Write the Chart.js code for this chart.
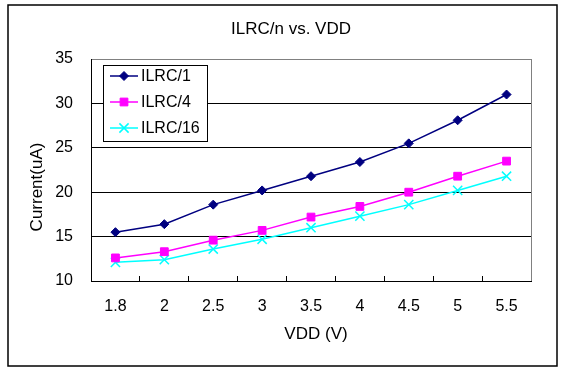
<!DOCTYPE html>
<html>
<head>
<meta charset="utf-8">
<script src="https://cdn.jsdelivr.net/npm/chart.js@4/dist/chart.umd.min.js"></script>
<style>
html,body{margin:0;padding:0;background:#fff;}
canvas{display:block;}
</style>
</head>
<body>
<canvas id="c" width="564" height="373"></canvas>
<script>
const chartTitle = 'ILRC/n vs. VDD';
const xTitle = 'VDD (V)';
const yTitle = 'Current(uA)';
const vddLabels = ['1.8', '2', '2.5', '3', '3.5', '4', '4.5', '5', '5.5'];
const ilrc1 = [15.5, 16.4, 18.6, 20.2, 21.8, 23.4, 25.5, 28.1, 31.0];
const ilrc4 = [12.6, 13.3, 14.6, 15.7, 17.2, 18.4, 20.0, 21.8, 23.5];
const ilrc16 = [12.1, 12.4, 13.6, 14.7, 16.0, 17.3, 18.6, 20.2, 21.8];
const seriesNames = ['ILRC/1', 'ILRC/4', 'ILRC/16'];
const yMin = 10, yMax = 35, yStep = 5;

const FONT = "'Liberation Sans', Arial, sans-serif";
Chart.defaults.font.family = FONT;
Chart.defaults.color = '#000';

function drawMarker(ctx, style, radius, color, lw, x, y) {
  if (Chart.helpers && Chart.helpers.drawPoint) {
    ctx.save();
    ctx.fillStyle = color; ctx.strokeStyle = color; ctx.lineWidth = lw;
    Chart.helpers.drawPoint(ctx, {pointStyle: style, radius: radius, borderWidth: lw, rotation: 0}, x, y);
    ctx.restore();
  }
}

const framePlugin = {
  id: 'frame',
  beforeDraw(chart) {
    const ctx = chart.ctx;
    ctx.save();
    ctx.fillStyle = '#fff';
    ctx.fillRect(0, 0, chart.width, chart.height);
    ctx.restore();
  },
  afterDraw(chart) {
    const ctx = chart.ctx;
    const a = chart.chartArea;
    ctx.save();
    // right border of plot area (gray)
    ctx.strokeStyle = '#808080';
    ctx.lineWidth = 1;
    ctx.beginPath();
    ctx.moveTo(Math.round(a.right) + 0.5, a.top);
    ctx.lineTo(Math.round(a.right) + 0.5, a.bottom);
    ctx.stroke();
    // outer frame
    ctx.strokeStyle = '#000';
    ctx.lineWidth = 1.5;
    ctx.strokeRect(8, 5, 549, 361);
    // titles
    ctx.fillStyle = '#000';
    ctx.font = '17px ' + FONT;
    ctx.textAlign = 'center';
    ctx.textBaseline = 'middle';
    ctx.fillText(chartTitle, 291, 29);
    ctx.fillText(xTitle, 316, 334);
    ctx.save();
    ctx.translate(37, 187);
    ctx.rotate(-Math.PI / 2);
    ctx.fillText(yTitle, 0, 0);
    ctx.restore();
    // legend box
    const lx = 103, ly = 65, lw = 104, lh = 76;
    ctx.fillStyle = '#fff';
    ctx.fillRect(lx, ly, lw, lh);
    ctx.strokeStyle = '#000';
    ctx.lineWidth = 1;
    ctx.strokeRect(lx + 0.5, ly + 0.5, lw, lh);
    const rowY = [76, 102, 128];
    chart.data.datasets.forEach((ds, i) => {
      const y = rowY[i];
      ctx.strokeStyle = ds.borderColor;
      ctx.lineWidth = ds.borderWidth;
      ctx.beginPath();
      ctx.moveTo(110, y);
      ctx.lineTo(138, y);
      ctx.stroke();
      drawMarker(ctx, ds.pointStyle, ds.pointRadius, ds.pointBackgroundColor, ds.pointBorderWidth, 124, y);
      ctx.fillStyle = '#000';
      ctx.font = '16px ' + FONT;
      ctx.textAlign = 'left';
      ctx.textBaseline = 'middle';
      ctx.fillText(ds.label, 141, y + 1);
    });
    ctx.restore();
  }
};

new Chart(document.getElementById('c'), {
  type: 'line',
  data: {
    labels: vddLabels,
    datasets: [
      {label: seriesNames[0], data: ilrc1, borderColor: '#000080', backgroundColor: '#000080',
       pointBackgroundColor: '#000080', pointBorderColor: '#000080', borderWidth: 1.5,
       pointStyle: 'rectRot', pointRadius: 4.5, pointBorderWidth: 1, tension: 0},
      {label: seriesNames[1], data: ilrc4, borderColor: '#FF00FF', backgroundColor: '#FF00FF',
       pointBackgroundColor: '#FF00FF', pointBorderColor: '#FF00FF', borderWidth: 1.5,
       pointStyle: 'rect', pointRadius: 5.5, pointBorderWidth: 1, tension: 0},
      {label: seriesNames[2], data: ilrc16, borderColor: '#00FFFF', backgroundColor: '#00FFFF',
       pointBackgroundColor: '#00FFFF', pointBorderColor: '#00FFFF', borderWidth: 1.5,
       pointStyle: 'crossRot', pointRadius: 6.5, pointBorderWidth: 1.5, tension: 0}
    ]
  },
  options: {
    responsive: false,
    animation: false,
    devicePixelRatio: 1,
    layout: {padding: {left: 0, right: 33, top: 59, bottom: 0}},
    plugins: {legend: {display: false}, title: {display: false}, tooltip: {enabled: false}},
    scales: {
      x: {
        type: 'category',
        offset: true,
        grid: {display: true, offset: true, drawOnChartArea: false, drawTicks: true, tickLength: -5, color: '#000', lineWidth: 1},
        border: {display: true, color: '#000', width: 1},
        ticks: {font: {size: 16}, padding: 21, color: '#000', maxRotation: 0},
        title: {display: false},
        afterFit(s) { s.height = 92; }
      },
      y: {
        min: yMin, max: yMax,
        ticks: {stepSize: yStep, font: {size: 16}, padding: 18, color: '#000'},
        grid: {drawTicks: false, color: (c) => (c.tick && c.tick.value === yMax) ? '#808080' : '#000', lineWidth: 1},
        border: {display: true, color: '#000', width: 1},
        title: {display: false},
        afterFit(s) { s.width = 91; }
      }
    }
  },
  plugins: [framePlugin]
});
</script>
</body>
</html>
